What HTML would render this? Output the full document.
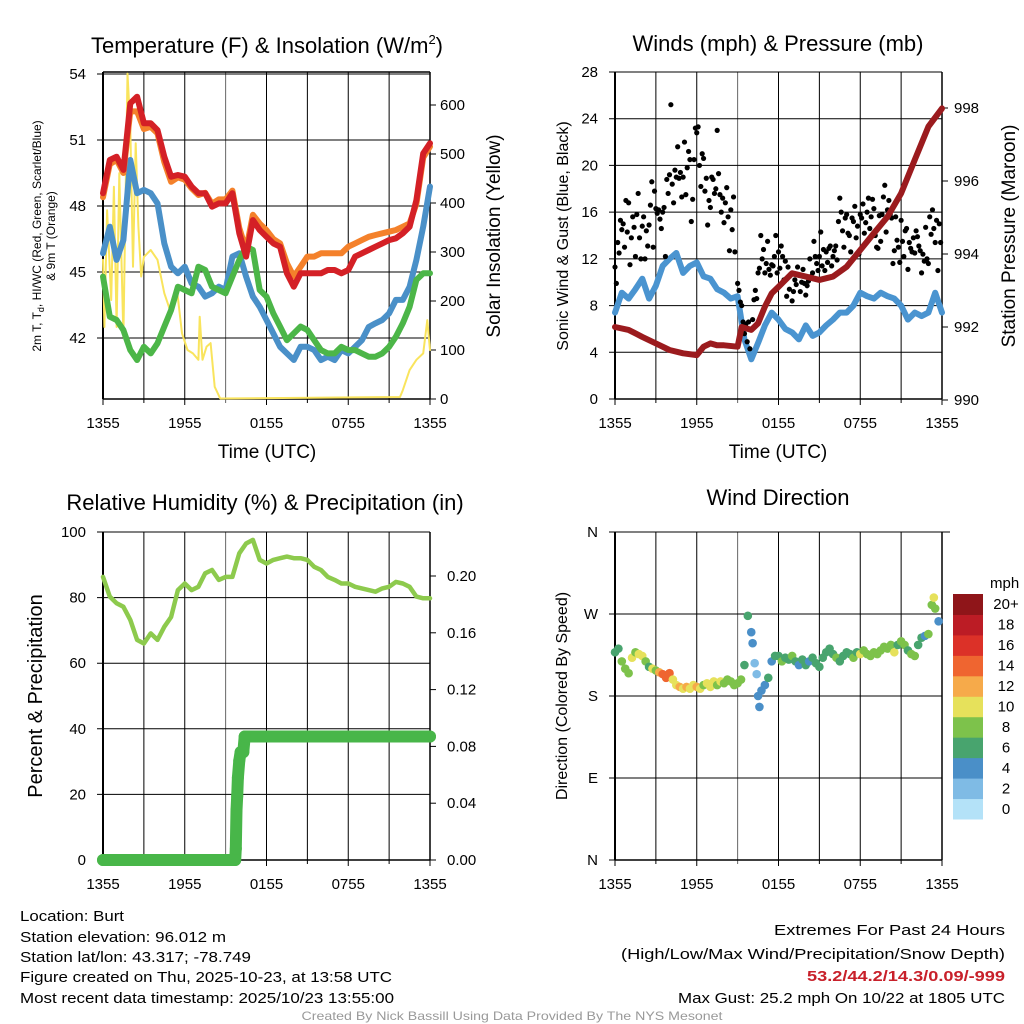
<!DOCTYPE html>
<html><head><meta charset="utf-8"><style>
html,body{margin:0;padding:0;background:#fff;}
svg{display:block;font-family:"Liberation Sans",sans-serif;}
</style></head><body>
<svg id="fig" width="1024" height="1024" viewBox="0 0 1024 1024" xmlns="http://www.w3.org/2000/svg">
<g font-size="22" text-anchor="middle" fill="#000">
<text x="267" y="53">Temperature (F) &amp; Insolation (W/m<tspan font-size="13" dy="-9">2</tspan><tspan dy="9">)</tspan></text>
<text x="778" y="51">Winds (mph) &amp; Pressure (mb)</text>
<text x="265" y="510">Relative Humidity (%) &amp; Precipitation (in)</text>
<text x="778" y="505">Wind Direction</text>
</g>
<g fill="#000">
<text font-size="12" text-anchor="middle" transform="translate(41,236) rotate(-90)">2m T, T<tspan font-size="9" dy="3">d</tspan><tspan dy="-3">, HI/WC (Red, Green, Scarlet/Blue)</tspan></text>
<text font-size="12" text-anchor="middle" transform="translate(55,236) rotate(-90)">&amp; 9m T (Orange)</text>
<text font-size="19" text-anchor="middle" transform="translate(500,236) rotate(-90)">Solar Insolation (Yellow)</text>
<text font-size="19" text-anchor="middle" x="267" y="458">Time (UTC)</text>
<text font-size="16" text-anchor="middle" transform="translate(568,236) rotate(-90)">Sonic Wind &amp; Gust (Blue, Black)</text>
<text font-size="19" text-anchor="middle" transform="translate(1015,236) rotate(-90)">Station Pressure (Maroon)</text>
<text font-size="19" text-anchor="middle" x="778" y="458">Time (UTC)</text>
<text font-size="20" text-anchor="middle" transform="translate(42,696) rotate(-90)">Percent &amp; Precipitation</text>
<text font-size="16" text-anchor="middle" transform="translate(567,696) rotate(-90)">Direction (Colored By Speed)</text>
<text font-size="15" x="990" y="588">mph</text>
</g>
<g font-size="15" fill="#000">
<text x="20" y="921" textLength="104" lengthAdjust="spacingAndGlyphs">Location: Burt</text>
<text x="20" y="942" textLength="206" lengthAdjust="spacingAndGlyphs">Station elevation: 96.012 m</text>
<text x="20" y="962" textLength="231" lengthAdjust="spacingAndGlyphs">Station lat/lon: 43.317; -78.749</text>
<text x="20" y="982" textLength="372" lengthAdjust="spacingAndGlyphs">Figure created on Thu, 2025-10-23, at 13:58 UTC</text>
<text x="20" y="1003" textLength="374" lengthAdjust="spacingAndGlyphs">Most recent data timestamp: 2025/10/23 13:55:00</text>
<text x="1005" y="935" text-anchor="end" textLength="231" lengthAdjust="spacingAndGlyphs">Extremes For Past 24 Hours</text>
<text x="1005" y="959" text-anchor="end" textLength="384" lengthAdjust="spacingAndGlyphs">(High/Low/Max Wind/Precipitation/Snow Depth)</text>
<text x="1005" y="981" text-anchor="end" font-weight="bold" fill="#c8202a" textLength="198" lengthAdjust="spacingAndGlyphs">53.2/44.2/14.3/0.09/-999</text>
<text x="1005" y="1003" text-anchor="end" textLength="327" lengthAdjust="spacingAndGlyphs">Max Gust: 25.2 mph On 10/22 at 1805 UTC</text>
<text x="512" y="1020" text-anchor="middle" font-size="12" fill="#999" textLength="421" lengthAdjust="spacingAndGlyphs">Created By Nick Bassill Using Data Provided By The NYS Mesonet</text>
</g>
</svg>
<script>
// ---------- data ----------
const hours = [0,0.5,1,1.5,2,2.5,3,3.5,4,4.5,5,5.5,6,6.5,7,7.5,8,8.5,9,9.5,10,10.5,11,11.5,12,12.5,13,13.5,14,14.5,15,15.5,16,16.5,17,17.5,18,18.5,19,19.5,20,20.5,21,21.5,22,22.5,23,23.5,24];
const timeTickLabels = ["1355","1955","0155","0755","1355"];
const tempRed = [48.58,50.09,50.24,49.64,52.67,52.97,51.76,51.76,51.45,50.24,49.33,49.41,49.33,48.88,48.58,48.58,47.97,48.12,48.12,48.58,46.76,45.7,47.36,46.91,46.6,46.3,46.15,44.94,44.33,44.94,44.94,44.94,44.94,45.09,45.09,44.94,45.09,45.7,45.85,46.0,46.15,46.3,46.45,46.53,46.76,47.06,48.27,50.39,50.85];
const tempOrange = [48.4,49.9,50.1,49.5,52.3,52.3,51.5,51.6,51.3,50.0,49.1,49.3,49.2,48.8,48.5,48.6,48.1,48.3,48.3,48.7,47.0,46.0,47.6,47.2,46.9,46.5,46.3,45.4,44.79,45.24,45.7,45.7,45.85,45.85,45.85,45.85,46.15,46.3,46.45,46.6,46.68,46.76,46.83,46.91,47.06,47.21,48.1,50.2,50.7];
const tempBlue = [45.85,47.06,45.55,46.45,50.09,48.58,48.73,48.58,48.12,46.3,45.24,44.94,45.24,44.48,44.33,43.88,44.03,44.33,44.18,45.7,45.85,44.79,43.88,43.42,42.82,42.21,41.6,41.3,41.0,41.6,41.6,41.45,41.0,41.15,41.0,41.45,41.3,41.6,41.9,42.5,42.67,42.82,43.12,43.73,43.73,44.33,45.55,47.06,48.88];
const tempGreen = [44.79,42.97,42.82,42.36,41.45,41.0,41.6,41.3,41.76,42.52,43.27,44.33,44.18,44.03,45.24,45.09,44.33,44.18,44.03,44.79,45.55,46.15,46.0,44.18,43.88,43.12,42.52,41.9,42.21,42.52,42.36,41.9,41.45,41.3,41.3,41.6,41.45,41.45,41.3,41.15,41.15,41.3,41.6,42.06,42.67,43.42,44.64,44.94,44.94];
const solarHours = [0,0.1,0.3,0.6,0.8,1.0,1.2,1.5,1.8,2.0,2.2,2.4,2.6,2.8,3.0,3.5,4.0,4.5,5.0,5.4,5.8,6.2,6.6,7.0,7.1,7.3,7.6,7.9,8.2,8.6,21.8,22.0,22.5,23.0,23.5,23.8,24.0];
const solarVals = [284,147,385,202,433,147,461,127,664,556,270,522,352,250,290,304,284,216,175,229,134,100,93,80,168,80,107,114,25,1,4,18,59,80,93,161,100];
const tempTicks = [42,45,48,51,54];
const solarTicks = [0,100,200,300,400,500,600];

const windSonic = [7.4,9.1,8.6,9.4,10.3,8.6,9.7,11.4,12,12.5,10.8,11.4,11.7,10.5,10.3,9.4,9.1,8.6,8.8,5.1,3.4,4.8,6.3,7.4,6.8,6.0,5.7,5.1,6.3,5.4,5.7,6.3,6.8,7.4,7.4,8.0,9.1,8.8,8.6,9.1,8.8,8.6,8.0,6.8,7.4,7.1,7.4,9.1,7.4];
const pressHours = [0,1,2,3,4,5,6,6.5,7,7.5,8,9,9.3,10,10.5,11,11.5,12,13,14,15,16,17,18,19,20,21,22,23,24];
const pressVals = [992.0,991.92,991.73,991.55,991.37,991.28,991.23,991.46,991.55,991.5,991.5,991.46,992.0,991.92,992.1,992.56,992.92,993.1,993.47,993.38,993.29,993.38,993.65,994.11,994.57,995.02,995.66,996.58,997.49,997.99];
const gustHours = [0,0.1,0.2,0.3,0.4,0.5,0.6,0.7,0.8,0.9,1,1.1,1.2,1.3,1.4,1.5,1.6,1.7,1.8,1.9,2,2.1,2.2,2.3,2.4,2.5,2.6,2.7,2.8,2.9,3,3.1,3.2,3.3,3.4,3.5,3.6,3.7,3.8,3.9,4,4.1,4.2,4.3,4.4,4.5,4.6,4.7,4.8,4.9,5,5.1,5.2,5.3,5.4,5.5,5.6,5.7,5.8,5.9,6,6.1,6.2,6.3,6.4,6.5,6.6,6.7,6.8,6.9,7,7.1,7.2,7.3,7.4,7.5,7.6,7.7,7.8,7.9,8,8.1,8.2,8.3,8.4,8.5,8.6,8.7,8.8,9,9.1,9.2,9.3,9.4,9.5,9.6,9.7,9.8,9.9,10,10.1,10.2,10.3,10.4,10.5,10.6,10.7,10.8,10.9,11,11.1,11.2,11.3,11.4,11.5,11.6,11.7,11.8,11.9,12,12.1,12.2,12.3,12.4,12.5,12.6,12.7,12.8,12.9,13,13.1,13.2,13.3,13.4,13.5,13.6,13.7,13.8,13.9,14,14.1,14.2,14.3,14.4,14.5,14.6,14.7,14.8,14.9,15,15.1,15.2,15.3,15.4,15.5,15.6,15.7,15.8,15.9,16,16.1,16.2,16.3,16.4,16.5,16.6,16.7,16.8,16.9,17,17.1,17.2,17.3,17.4,17.5,17.6,17.7,17.8,17.9,18,18.1,18.2,18.3,18.4,18.5,18.6,18.7,18.8,18.9,19,19.1,19.2,19.3,19.4,19.5,19.6,19.7,19.8,19.9,20,20.1,20.2,20.3,20.4,20.5,20.6,20.7,20.8,20.9,21,21.1,21.2,21.3,21.4,21.5,21.6,21.7,21.8,21.9,22,22.1,22.2,22.3,22.4,22.5,22.6,22.7,22.8,22.9,23,23.1,23.2,23.3,23.4,23.5,23.6,23.7,23.8,23.9];
const gustVals = [11.3,9.9,13.4,12.5,15.3,14.5,15.0,13.0,17.0,14.3,16.8,11.5,13.8,15.6,14.7,12.2,15.8,17.6,13.8,12.0,14.8,15.6,12.0,14.4,13.1,14.9,16.6,18.6,13.0,17.8,16.3,15.9,16.2,15.4,14.6,16.0,16.4,12.2,18.8,17.6,19.2,25.2,18.4,16.8,19.6,19.0,21.6,18.9,19.4,17.3,19.0,22.0,17.5,19.8,21.2,20.5,15.2,17.1,20.5,23.2,22.8,23.3,20.0,18.2,21.0,20.6,17.8,18.9,14.9,17.0,16.4,19.0,18.8,17.6,18.0,23.0,19.3,17.5,16.0,17.2,15.1,16.8,18.1,15.6,12.7,16.2,14.5,17.3,12.6,9.9,9.3,8.3,8.0,6.6,5.6,6.4,4.9,6.6,4.3,6.0,6.8,8.5,9.3,8.6,10.8,11.2,14.0,12.0,12.8,10.8,11.6,13.5,11.1,10.6,11.5,11.4,12.2,14.0,10.8,12.6,11.2,13.1,12.2,10.2,11.8,8.8,11.3,9.4,10.7,8.4,9.2,10.2,9.8,11.3,10.6,9.2,10.0,11.1,9.9,8.9,9.7,10.1,12.0,10.5,10.8,13.5,12.2,11.6,11.0,12.2,14.3,11.4,12.8,11.0,12.6,11.7,12.9,13.1,11.4,12.2,12.7,13.1,11.9,15.2,17.2,16.0,14.4,13.0,15.5,15.8,14.2,14.0,12.6,15.5,15.2,16.5,13.8,14.8,12.4,15.8,15.5,16.7,14.2,15.1,16.0,17.2,14.6,15.6,17.1,16.3,14.0,13.0,12.9,15.7,13.5,15.8,17.3,18.3,14.3,16.2,17.0,15.8,15.5,11.6,12.7,15.6,13.6,13.0,11.7,15.3,13.5,12.2,14.4,14.6,11.1,13.4,12.9,12.6,13.8,12.5,14.4,13.9,13.1,12.7,10.8,12.4,11.8,14.7,12.0,11.6,15.6,14.1,16.2,14.6,13.4,15.3,11.0,15.0,13.4];
const windTicks = [0,4,8,12,16,20,24,28];
const pressTicks = [990,992,994,996,998];

const rhVals = [86.3,80.3,78.3,77.2,73.2,67.1,66.0,69.1,67.1,71.1,74.1,82.3,84.3,82.3,83.3,87.4,88.4,85.4,86.3,86.3,93.5,96.5,97.6,91.5,90.4,91.5,92.0,92.5,92.0,92.0,91.5,89.4,88.4,86.3,85.4,84.3,84.3,83.3,82.8,82.3,81.8,82.8,83.3,84.8,84.3,83.3,80.3,79.8,79.8];
const precipHours = [0,9.7,9.75,9.8,9.85,9.9,10.0,10.1,10.3,10.4,24];
const precipVals = [0,0,0.008,0.035,0.045,0.058,0.07,0.076,0.076,0.087,0.087];
const rhTicks = [0,20,40,60,80,100];
const precipTicks = ["0.00","0.04","0.08","0.12","0.16","0.20"];

const dirHours = [0,0.25,0.5,0.75,1,1.25,1.5,1.75,2,2.25,2.5,2.75,3,3.25,3.5,3.75,4,4.25,4.5,4.75,5,5.25,5.5,5.75,6,6.25,6.5,6.75,7,7.25,7.5,7.75,8,8.25,8.5,8.75,9,9.25,9.5,9.75,10,10.1,10.25,10.4,10.5,10.6,10.75,11,11.25,11.5,11.75,12,12.25,12.5,12.75,13,13.25,13.5,13.75,14,14.25,14.5,14.75,15,15.25,15.5,15.75,16,16.25,16.5,16.75,17,17.25,17.5,17.75,18,18.25,18.5,18.75,19,19.25,19.5,19.75,20,20.25,20.5,20.75,21,21.25,21.5,21.75,22,22.25,22.5,22.75,23,23.25,23.4,23.5,23.75];
const dirVals = [228,232,218,210,205,222,228,226,224,218,212,210,208,206,204,200,205,198,192,190,188,190,188,192,190,188,192,194,190,196,192,196,194,198,196,192,194,198,214,268,250,238,216,204,180,168,186,192,200,218,224,224,218,222,220,224,218,214,220,214,218,222,216,212,222,228,232,226,222,218,224,228,226,222,228,226,230,226,224,228,226,230,234,232,236,228,236,240,236,230,226,224,236,244,246,248,280,288,276,262];
const dirSpeeds = [7,6,8,8,8,10,8,10,10,8,6,10,8,12,14,15,14,10,10,12,10,12,10,10,13,10,9,10,11,10,8,10,8,8,8,9,8,8,7,6,4,4,3,2,4,4,4,4,6,4,6,6,8,6,6,8,6,4,6,6,5,6,6,6,6,6,6,6,8,6,6,6,6,8,6,10,8,8,8,8,8,8,8,8,8,10,6,8,8,6,8,8,6,6,4,8,8,10,8,4];
const dirTickLabels = ["N","E","S","W","N"];
const speedBinLabels = ["0","2","4","6","8","10","12","14","16","18","20+"];
const speedBinColors = ["#b4e2f8","#7fbbe5","#4a8fc8","#48a46e","#7dc24b","#e6e15b","#f6aa4a","#ef6530","#dc3128","#bc1c25","#8f1519"];

// ---------- helpers ----------
const svg = document.getElementById('fig');
const NS = 'http://www.w3.org/2000/svg';
function mk(tag, attrs, parent){
  const e = document.createElementNS(NS, tag);
  for (const k in attrs) e.setAttribute(k, attrs[k]);
  (parent||svg).appendChild(e);
  return e;
}
function linScale(d0,d1,r0,r1){ return v => r0 + (v-d0)*(r1-r0)/(d1-d0); }

function frame(name, x0, x1, y0, y1, yTicks, yScale, xScale){
  const g = mk('g', {});
  
  
  for (let h=0; h<=24; h+=3){
    const x = xScale(h);
    const l = mk('line', {x1:x, x2:x, y1:y0, y2:y1+ (h%6===0?6:4), stroke: (h===9)?'#666':'#000', 'stroke-width':1}, g);
    
    
  }
  yTicks.forEach(v => {
    const y = yScale(v);
    const l = mk('line', {x1:x0-6, x2:x1, y1:y, y2:y, stroke:'#000', 'stroke-width':1}, g);
    
    
  });
  const b = mk('line', {x1:x0, x2:x0, y1:y0, y2:y1, stroke:'#000', 'stroke-width':2}, g);
  
  
  const b2 = mk('line', {x1:x1, x2:x1, y1:y0, y2:y1, stroke:'#000', 'stroke-width':1.5}, g);
  
  
  const b3 = mk('line', {x1:x0, x2:x1, y1:y1, y2:y1, stroke:'#000', 'stroke-width':1.5}, g);
  
  
  const lg = mk('g', {'font-size':15, 'text-anchor':'middle'});
  
  
  timeTickLabels.forEach((t,i) => {
    const tx = mk('text', {x:xScale(i*6), y:y1+29}, lg);
    tx.textContent = t;
    
    
  });
}
function tickLabels(name, vals, labels, scale, x, anchor){
  const g = mk('g', {'font-size':15, 'text-anchor':anchor});
  
  
  vals.forEach((v,i) => {
    const t = mk('text', {x:x, y:scale(v)+5}, g);
    t.textContent = labels ? labels[i] : String(v);
    
    
  });
}
function rightTicks(vals, scale, x){
  const g = mk('g', {});
  
  
  vals.forEach(v => {
    const l = mk('line', {x1:x, x2:x+6, y1:scale(v), y2:scale(v), stroke:'#000'}, g);
    
    
  });
}
function pathOf(xs, ys, xS, yS){
  return xs.map((h,i) => (i?'L':'M') + xS(h).toFixed(1) + ',' + yS(ys[i]).toFixed(1)).join(' ');
}
function line(name, xs, ys, xS, yS, color, w){
  const p = mk('path', {d:pathOf(xs,ys,xS,yS), fill:'none', stroke:color, 'stroke-width':w, 'stroke-linejoin':'round', 'stroke-linecap':'round'});
  
  
  return p;
}

// ---------- Panel 1: temperature ----------
const x1S = linScale(0,24,103,430);
const tS = linScale(54,42,74,338);
const sS = linScale(0,600,399,105);
frame('temperature', 103, 430, 72, 399, tempTicks, tS, x1S);
const top1 = mk('line', {x1:103,x2:430,y1:72,y2:72,stroke:'#000','stroke-width':1.5});


tickLabels('temperature-y-tick-labels', tempTicks, null, tS, 86, 'end');
tickLabels('solar-y-tick-labels', solarTicks, null, sS, 440, 'start');
rightTicks(solarTicks, sS, 430);
line('solar-line', solarHours, solarVals, x1S, sS, '#f9e45d', 2);
line('temp-blue-line', hours, tempBlue, x1S, tS, '#4a90c8', 6);
line('temp-green-line', hours, tempGreen, x1S, tS, '#4cb648', 6);
line('temp-orange-line', hours, tempOrange, x1S, tS, '#f4812b', 6);
line('temp-red-line', hours, tempRed, x1S, tS, '#d42026', 6);

// ---------- Panel 2: winds ----------
const x2S = linScale(0,24,615,942);
const wS = linScale(0,28,399,72);
const pS = linScale(990,998,400,108);
frame('winds', 615, 942, 72, 399, windTicks, wS, x2S);
tickLabels('wind-y-tick-labels', windTicks, null, wS, 598, 'end');
tickLabels('pressure-y-tick-labels', pressTicks, null, pS, 954, 'start');
rightTicks(pressTicks, pS, 942);
line('sonic-wind-line', hours, windSonic, x2S, wS, '#4a94d0', 6);
const gg = mk('g', {fill:'#000'});


gustHours.forEach((h,i) => {
  const c = mk('circle', {cx:x2S(h), cy:wS(gustVals[i]), r:2.6}, gg);
  
  
});
line('pressure-line', pressHours, pressVals, x2S, pS, '#9b1b1e', 6);

// ---------- Panel 3: RH & precip ----------
const x3S = linScale(0,24,103,430);
const rS = linScale(0,100,860,532);
const prS = linScale(0,0.2,860,576);
frame('humidity', 103, 430, 532, 860, rhTicks, rS, x3S);
tickLabels('rh-y-tick-labels', rhTicks, null, rS, 86, 'end');
tickLabels('precip-y-tick-labels', precipTicks.map(Number), precipTicks, prS, 447, 'start');
rightTicks(precipTicks.map(Number), prS, 430);
line('rh-line', hours, rhVals, x3S, rS, '#8dca4d', 4.5);
line('precip-line', precipHours, precipVals, x3S, prS, '#48b649', 12);
const pg = mk('g', {fill:'#48b649'});


precipHours.forEach((h,i) => {
  const c = mk('circle', {cx:x3S(h), cy:prS(precipVals[i]), r:6}, pg);
  
  
});

// ---------- Panel 4: direction ----------
const x4S = linScale(0,24,615,942);
const dS = linScale(0,360,860,532);
const dirTickVals = [0,90,180,270,360];
frame('direction', 615, 942, 532, 860, dirTickVals, dS, x4S);
const top4 = mk('line', {x1:609,x2:950,y1:532,y2:532,stroke:'#000','stroke-width':1});


tickLabels('direction-y-tick-labels', dirTickVals, dirTickLabels, dS, 598, 'end');
const dg = mk('g', {});


dirHours.forEach((h,i) => {
  const idx = Math.min(10, Math.floor(dirSpeeds[i]/2));
  const c = mk('circle', {cx:x4S(h), cy:dS(dirVals[i]), r:4.3, fill:speedBinColors[idx]}, dg);
  
  
});
// colorbar
const cbTop = 594, cbBot = 819, nb = speedBinLabels.length, bh = (cbBot-cbTop)/nb;
const cg = mk('g', {'font-size':15, 'text-anchor':'middle'});


speedBinLabels.forEach((lab,i) => {
  const y = cbBot - (i+1)*bh;
  const r = mk('rect', {x:953, y:y, width:30, height:bh+0.5, fill:speedBinColors[i]}, cg);
  
  
  const t = mk('text', {x:1006, y:y+bh/2+5}, cg);
  t.textContent = lab;
  
  
});
</script>
</body></html>
